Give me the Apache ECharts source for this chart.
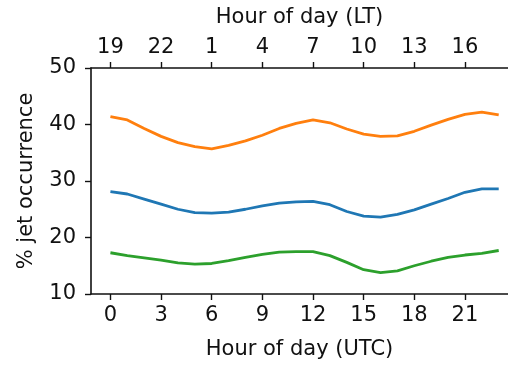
<!DOCTYPE html>
<html>
<head>
<meta charset="utf-8">
<script src="https://cdn.jsdelivr.net/npm/echarts@6/dist/echarts.min.js"></script>
<style>
  html, body { margin: 0; padding: 0; background: #fff; overflow: hidden; }
  #chart { width: 508px; height: 365px; }
</style>
</head>
<body>
<div id="chart"></div>
<script>
// Hours of day in UTC
const hoursUTC = [0,1,2,3,4,5,6,7,8,9,10,11,12,13,14,15,16,17,18,19,20,21,22,23];
// Tick positions on both horizontal axes
const tickHours = [0,3,6,9,12,15,18,21];
// Local time = UTC - 5
const ltOffset = 19;

// Percent jet occurrence per hour
const seriesBlue = [28.1,27.7,26.8,25.9,25.0,24.4,24.3,24.5,25.0,25.6,26.1,26.3,26.4,25.8,24.6,23.8,23.6,24.1,24.9,25.9,26.9,28.0,28.6,28.6];
const seriesOrange = [41.4,40.8,39.3,37.9,36.8,36.1,35.7,36.3,37.1,38.1,39.3,40.2,40.8,40.3,39.2,38.3,37.9,38.0,38.8,39.9,40.9,41.8,42.2,41.7];
const seriesGreen = [17.3,16.8,16.4,16.0,15.5,15.3,15.4,15.9,16.5,17.0,17.4,17.5,17.5,16.8,15.6,14.3,13.8,14.1,15.0,15.8,16.5,16.9,17.2,17.7];

const FONT = 'DejaVu Sans';
const FS = 21;
const ink = '#111';

function pairs(vals) { return hoursUTC.map((h, i) => [h, vals[i]]); }

// The plot box runs past the right edge of the canvas, so the visible
// horizontal range stops a little past the last hour.
const baseX = {
  type: 'value',
  min: -1.15,
  max: 23.55,
  axisLine: { show: true, onZero: false, lineStyle: { color: ink, width: 1.6 } },
  axisTick: { show: true, length: 6, customValues: tickHours, lineStyle: { color: ink, width: 1.4 } },
  splitLine: { show: false },
  nameLocation: 'middle',
  nameTextStyle: { fontFamily: FONT, fontSize: FS, color: ink }
};

const chart = echarts.init(document.getElementById('chart'), null, { renderer: 'canvas' });
chart.setOption({
  animation: false,
  backgroundColor: '#fff',
  grid: { left: 91, top: 68, height: 229, right: 0, containLabel: false },
  xAxis: [
    Object.assign({}, baseX, {
      position: 'bottom',
      name: 'Hour of day (UTC)',
      nameGap: 45,
      axisLabel: { customValues: tickHours, margin: 11, fontFamily: FONT, fontSize: FS, color: ink,
                   formatter: v => String(v) }
    }),
    Object.assign({}, baseX, {
      position: 'top',
      name: 'Hour of day (LT)',
      nameGap: 40,
      axisLabel: { customValues: tickHours, margin: 10, fontFamily: FONT, fontSize: FS, color: ink,
                   formatter: v => String((v + ltOffset) % 24) }
    })
  ],
  yAxis: {
    type: 'value',
    min: 10,
    max: 50,
    interval: 10,
    name: '% jet occurrence',
    nameLocation: 'middle',
    nameGap: 54,
    nameTextStyle: { fontFamily: FONT, fontSize: FS, color: ink },
    axisLine: { show: true, onZero: false, lineStyle: { color: ink, width: 1.6 } },
    axisTick: { show: true, length: 6, lineStyle: { color: ink, width: 1.4 } },
    axisLabel: { margin: 15, fontFamily: FONT, fontSize: FS, color: ink },
    splitLine: { show: false }
  },
  series: [
    { type: 'line', data: pairs(seriesBlue), showSymbol: false, lineStyle: { color: '#1f77b4', width: 2.8 }, itemStyle: { color: '#1f77b4' } },
    { type: 'line', data: pairs(seriesOrange), showSymbol: false, lineStyle: { color: '#ff7f0e', width: 2.8 }, itemStyle: { color: '#ff7f0e' } },
    { type: 'line', data: pairs(seriesGreen), showSymbol: false, lineStyle: { color: '#2ca02c', width: 2.8 }, itemStyle: { color: '#2ca02c' } }
  ]
});
</script>
</body>
</html>
